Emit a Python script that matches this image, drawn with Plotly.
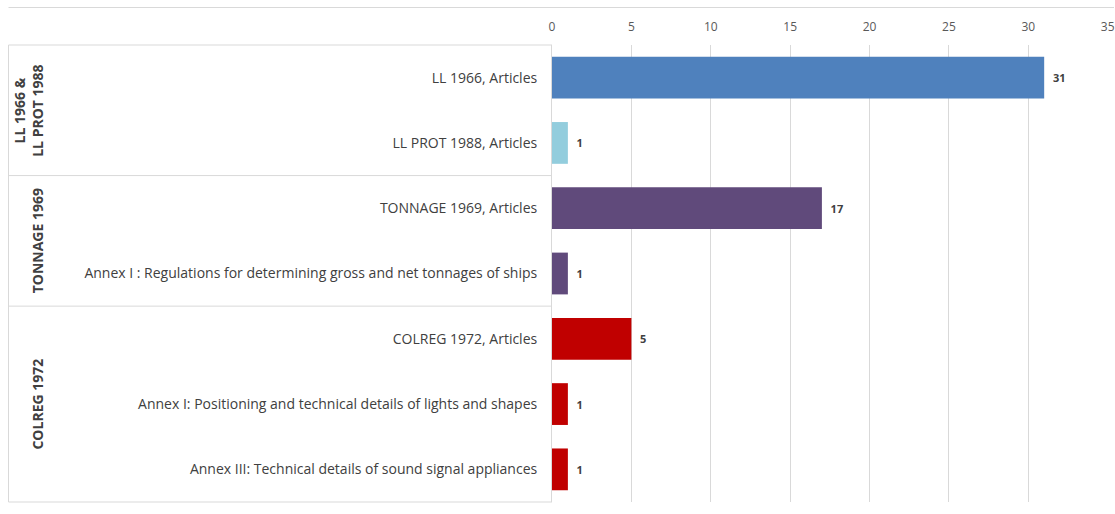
import plotly.graph_objects as go

categories = [
    "LL 1966, Articles",
    "LL PROT 1988, Articles",
    "TONNAGE 1969, Articles",
    "Annex I : Regulations for determining gross and net tonnages of ships",
    "COLREG 1972, Articles",
    "Annex I: Positioning and technical details of lights and shapes",
    "Annex III: Technical details of sound signal appliances",
]
values = [31, 1, 17, 1, 5, 1, 1]
bar_colors = ["#4F81BD", "#93CDDD", "#604A7B", "#604A7B", "#C00000", "#C00000", "#C00000"]
groups = ["LL 1966 &<br>LL PROT 1988", "TONNAGE 1969", "COLREG 1972"]
group_sizes = [2, 2, 3]
x_ticks = [0, 5, 10, 15, 20, 25, 30, 35]

W, H = 1115, 514
ml, mr, mt, mb = 552, 7, 45, 12
pw = W - ml - mr
ph = H - mt - mb

FONT = "'Open Sans', Lato, sans-serif"

fig = go.Figure()
fig.add_trace(go.Bar(
    x=values, y=list(range(len(categories))), orientation="h",
    marker=dict(color=bar_colors, line=dict(width=0)),
    text=values, texttemplate="&nbsp;&nbsp;<b>%{x}</b>", textposition="outside",
    textfont=dict(size=11, color="#404040", family=FONT),
    cliponaxis=False, width=0.64, hoverinfo="skip",
))

def px_x(p):  # page pixel -> paper
    return (p - ml) / pw

def px_y(p):
    return 1 - (p - mt) / ph

line_col = "#D9D9D9"
shapes = []
shapes.append(dict(type="line", xref="paper", yref="paper", x0=px_x(8.5), x1=px_x(1114),
                   y0=px_y(7.5), y1=px_y(7.5), line=dict(color=line_col, width=1)))
shapes.append(dict(type="line", xref="paper", yref="paper", x0=px_x(8.5), x1=px_x(8.5),
                   y0=0, y1=1, line=dict(color=line_col, width=1)))
for yy in [0, 1]:
    shapes.append(dict(type="line", xref="paper", yref="paper", x0=px_x(8.5), x1=0,
                       y0=yy, y1=yy, line=dict(color=line_col, width=1)))
pos = -0.5
annotations = []
for g, n in zip(groups, group_sizes):
    center = pos + n / 2
    annotations.append(dict(xref="paper", yref="y", x=px_x(49), y=center, text="<b>" + g + "</b>",
                            textangle=-90, showarrow=False, xanchor="right", yanchor="middle",
                            font=dict(size=14, color="#404040", family=FONT)))
    pos += n
    if pos < len(categories) - 0.5:
        shapes.append(dict(type="line", xref="paper", yref="y", x0=px_x(8.5), x1=0,
                           y0=pos, y1=pos, line=dict(color=line_col, width=1)))

fig.update_layout(
    width=W, height=H,
    margin=dict(l=ml, r=mr, t=mt, b=mb, autoexpand=False),
    paper_bgcolor="white", plot_bgcolor="white",
    showlegend=False,
    font=dict(family=FONT, color="#595959"),
    shapes=shapes, annotations=annotations,
    xaxis=dict(side="top", range=[0, 35.02], tickvals=x_ticks, showgrid=True, gridcolor=line_col,
               gridwidth=1, zeroline=False, showline=False, ticks="", ticklabelstandoff=11,
               ticklabeloverflow="allow",
               tickfont=dict(size=12, color="#595959", family=FONT)),
    yaxis=dict(range=[len(categories) - 0.5, -0.5], tickvals=list(range(len(categories))),
               ticktext=categories, showline=True, linecolor=line_col, ticks="",
               ticklabelstandoff=11, showgrid=False, zeroline=False,
               tickfont=dict(size=14, color="#404040", family=FONT)),
)

fig.write_html("out.html", config={"displayModeBar": False},
               post_script="document.body.style.margin='0';document.body.style.overflow='hidden';")
